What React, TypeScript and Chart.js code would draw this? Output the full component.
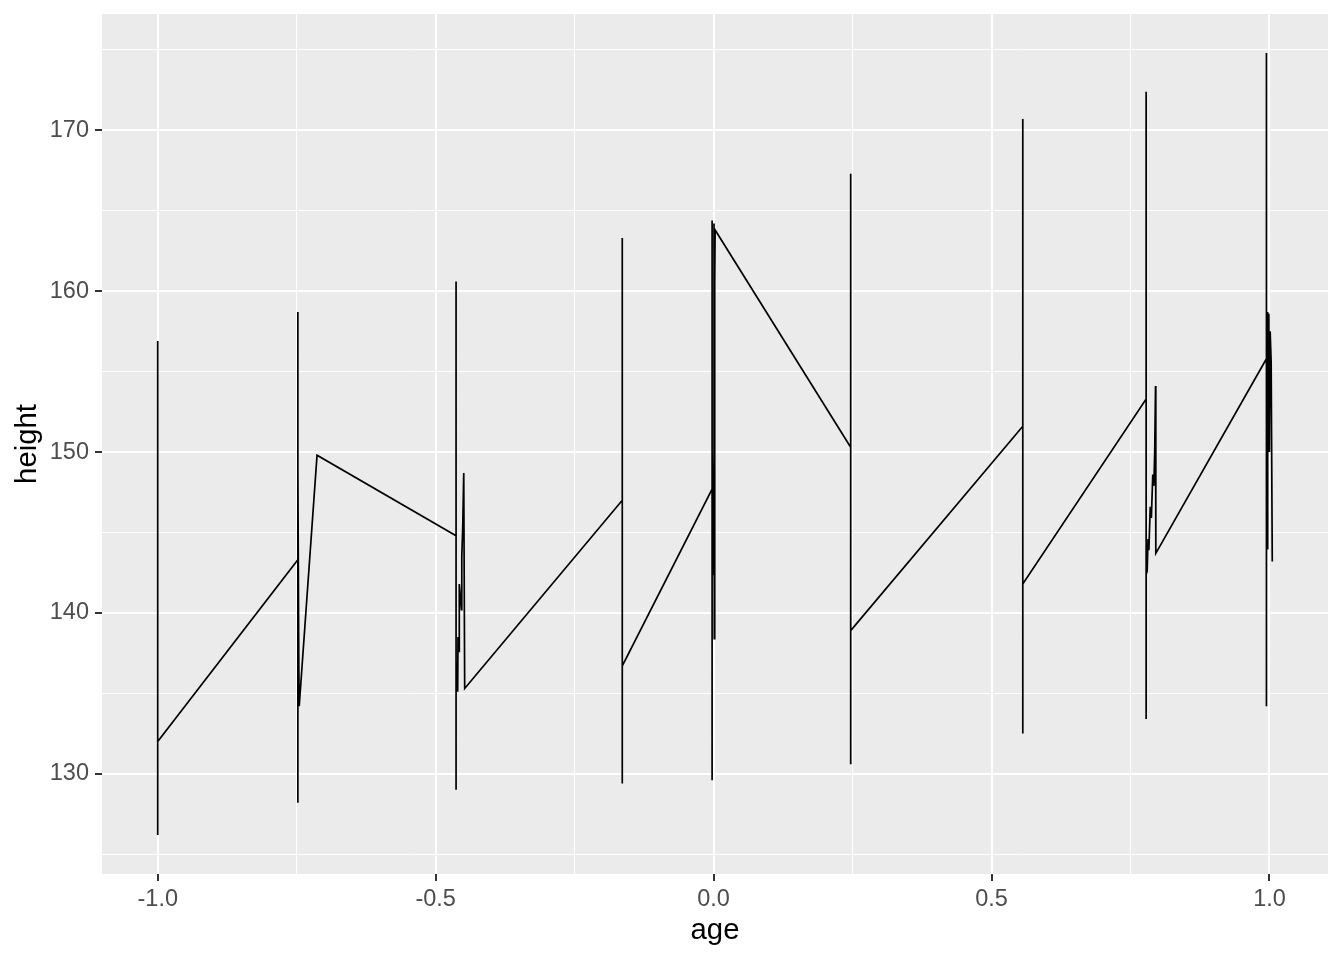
import React, { useEffect, useRef } from "react";
import { Chart, registerables } from "chart.js";

Chart.register(...registerables);

// Points in drawing order (sorted by age, as geom_line does)
const ages: number[] = [
  // age -1
  -1, -1, -1, -1, -1, -1, -1, -1, -1, -1, -1, -1,
  // age -0.7479
  -0.7479, -0.7479, -0.7479, -0.7479, -0.7479, -0.7479, -0.7479, -0.7479, -0.7479, -0.7479, -0.7479,
  -0.7462, -0.7455, -0.7134,
  // age -0.4633
  -0.4633, -0.4633, -0.4633, -0.4633, -0.4633, -0.4633, -0.4633, -0.4633, -0.4633, -0.4633, -0.4633,
  -0.4604, -0.4598, -0.458, -0.4575, -0.4537, -0.4530, -0.4513, -0.4495, -0.4478,
  // age -0.1643
  -0.1643, -0.1643, -0.1643, -0.1643, -0.1643, -0.1643, -0.1643, -0.1643, -0.1643, -0.1643, -0.1643,
  // age -0.0027
  -0.0027, -0.0027, -0.0027, -0.0027, -0.0027, -0.0027, -0.0027, -0.0027, -0.0027, -0.0027, -0.0027,
  0.0, 0.0007, 0.0012, 0.002, 0.0027,
  // age 0.2466
  0.2466, 0.2466, 0.2466, 0.2466, 0.2466, 0.2466, 0.2466, 0.2466, 0.2466, 0.2466, 0.2466,
  // age 0.5562
  0.5562, 0.5562, 0.5562, 0.5562, 0.5562, 0.5562, 0.5562, 0.5562, 0.5562, 0.5562, 0.5562,
  // age 0.7781
  0.7781, 0.7781, 0.7781, 0.7781, 0.7781, 0.7781, 0.7781, 0.7781, 0.7781, 0.7781, 0.7781,
  0.78, 0.7815, 0.783, 0.7855, 0.7875, 0.79, 0.792, 0.7935, 0.795, 0.7955,
  // age 0.9945
  0.9945, 0.9945, 0.9945, 0.9945, 0.9945, 0.9945, 0.9945, 0.9945, 0.9945, 0.9945, 0.9945,
  0.996, 0.9968, 0.9978, 0.9988, 0.9998, 1.0012, 1.003, 1.005,
];

const heights: number[] = [
  // age -1
  140.5, 136.9, 150.0, 156.9, 145.8, 142.4, 126.2, 142.5, 149.0, 135.0, 147.2, 132.0,
  // age -0.7479
  143.3, 139.1, 152.1, 158.7, 147.3, 143.8, 128.2, 143.9, 150.5, 137.0, 148.9,
  136.7, 134.2, 149.8,
  // age -0.4633
  144.8, 140.1, 153.9, 160.6, 148.7, 145.2, 129.0, 145.8, 152.0, 138.4, 137.0,
  135.1, 138.5, 137.6, 141.8, 140.2, 143.5, 145.4, 148.7, 135.3,
  // age -0.1643
  147.0, 142.6, 155.8, 163.3, 149.8, 146.3, 129.4, 148.1, 153.0, 140.0, 136.7,
  // age -0.0027
  147.7, 143.2, 156.0, 164.4, 150.2, 147.1, 129.6, 148.7, 154.0, 141.0, 150.0,
  142.4, 164.2, 138.4, 160.5, 163.8,
  // age 0.2466
  150.3, 144.0, 156.9, 167.3, 152.5, 148.1, 130.6, 149.8, 155.0, 142.0, 138.9,
  // age 0.5562
  151.6, 145.8, 157.4, 170.7, 154.8, 149.4, 132.5, 153.7, 157.0, 144.0, 141.8,
  // age 0.7781
  153.3, 146.8, 159.1, 172.4, 156.4, 150.5, 133.4, 155.4, 158.0, 145.0, 142.4,
  142.6, 144.6, 143.9, 146.6, 145.9, 148.6, 147.9, 150.0, 154.1, 143.7,
  // age 0.9945
  155.8, 148.3, 160.6, 174.8, 158.7, 151.5, 134.2, 157.0, 159.0, 146.0, 150.0,
  144.0, 158.7, 151.2, 158.6, 150.0, 157.5, 155.6, 143.2,
];

const xTickValues: number[] = [-1, -0.75, -0.5, -0.25, 0, 0.25, 0.5, 0.75, 1];
const xMajorTicks: number[] = [-1, -0.5, 0, 0.5, 1];
const yTickValues: number[] = [125, 130, 135, 140, 145, 150, 155, 160, 165, 170, 175];
const yMajorTicks: number[] = [130, 140, 150, 160, 170];
const xTitle = "age";
const yTitle = "height";

const FONT = '"Liberation Sans", Arial, sans-serif';

const isMajor = (list: number[], v: number) =>
  list.some((m) => Math.abs(m - v) < 1e-9);

export default function App() {
  const ref = useRef<HTMLCanvasElement>(null);

  useEffect(() => {
    document.body.style.margin = "0";
    if (!ref.current) return;
    const xMin = Math.min(...ages);
    const xMax = Math.max(...ages);
    const yMin = Math.min(...heights);
    const yMax = Math.max(...heights);
    const xPad = (xMax - xMin) * 0.05;
    const yPad = (yMax - yMin) * 0.05;

    const panelBg = {
      id: "panelBg",
      beforeDraw(chart: any) {
        const { ctx, chartArea: a } = chart;
        ctx.save();
        ctx.fillStyle = "#FFFFFF";
        ctx.fillRect(0, 0, chart.width, chart.height);
        ctx.fillStyle = "#EBEBEB";
        ctx.fillRect(a.left, a.top, a.right - a.left, a.bottom - a.top);
        ctx.restore();
      },
    };

    const titles = {
      id: "titles",
      afterDraw(chart: any) {
        const { ctx, chartArea: a } = chart;
        ctx.save();
        ctx.fillStyle = "#000000";
        ctx.font = `29.3px ${FONT}`;
        ctx.textAlign = "center";
        ctx.textBaseline = "alphabetic";
        ctx.fillText(xTitle, (a.left + a.right) / 2, 939);
        ctx.translate(36, (a.top + a.bottom) / 2);
        ctx.rotate(-Math.PI / 2);
        ctx.fillText(yTitle, 0, 0);
        ctx.restore();
      },
    };

    const chart = new Chart(ref.current, {
      type: "line",
      data: {
        datasets: [
          {
            data: ages.map((a, i) => ({ x: a, y: heights[i] })),
            borderColor: "#000000",
            borderWidth: 1.7,
            pointRadius: 0,
            tension: 0,
            fill: false,
          },
        ],
      },
      options: {
        responsive: false,
        animation: false,
        devicePixelRatio: 1,
        layout: { padding: { left: 0, right: 16, top: 14, bottom: 0 } },
        plugins: { legend: { display: false }, tooltip: { enabled: false } },
        scales: {
          x: {
            type: "linear",
            min: xMin - xPad,
            max: xMax + xPad,
            afterBuildTicks: (s: any) => {
              s.ticks = xTickValues.map((v) => ({ value: v }));
            },
            afterFit: (s: any) => {
              s.height = 86;
              s.paddingLeft = 0;
              s.paddingRight = 0;
              s.paddingTop = 0;
              s.paddingBottom = 0;
            },
            border: { display: false },
            grid: {
              color: "#FFFFFF",
              lineWidth: (c: any) =>
                c.tick ? (isMajor(xMajorTicks, c.tick.value) ? 2 : 1) : 0,
              tickColor: (c: any) =>
                c.tick && isMajor(xMajorTicks, c.tick.value) ? "#333333" : "rgba(0,0,0,0)",
              tickLength: 7,
              tickWidth: 2,
            },
            ticks: {
              autoSkip: false,
              maxRotation: 0,
              padding: 4,
              color: "#4D4D4D",
              font: { family: FONT, size: 23.5 },
              callback: (v: any) =>
                isMajor(xMajorTicks, Number(v)) ? Number(v).toFixed(1) : "",
            },
          },
          y: {
            type: "linear",
            min: yMin - yPad,
            max: yMax + yPad,
            afterBuildTicks: (s: any) => {
              s.ticks = yTickValues.map((v) => ({ value: v }));
            },
            afterFit: (s: any) => {
              s.width = 102;
              s.paddingLeft = 0;
              s.paddingRight = 0;
              s.paddingTop = 0;
              s.paddingBottom = 0;
            },
            border: { display: false },
            grid: {
              color: "#FFFFFF",
              lineWidth: (c: any) =>
                c.tick ? (isMajor(yMajorTicks, c.tick.value) ? 2 : 1) : 0,
              tickColor: (c: any) =>
                c.tick && isMajor(yMajorTicks, c.tick.value) ? "#333333" : "rgba(0,0,0,0)",
              tickLength: 7,
              tickWidth: 2,
            },
            ticks: {
              autoSkip: false,
              padding: 6,
              color: "#4D4D4D",
              font: { family: FONT, size: 23.5 },
              callback: (v: any) =>
                isMajor(yMajorTicks, Number(v)) ? String(Number(v)) : "",
            },
          },
        },
      },
      plugins: [panelBg, titles],
    } as any);

    return () => chart.destroy();
  }, []);

  return <canvas ref={ref} width={1344} height={960} style={{ display: "block" }} />;
}
